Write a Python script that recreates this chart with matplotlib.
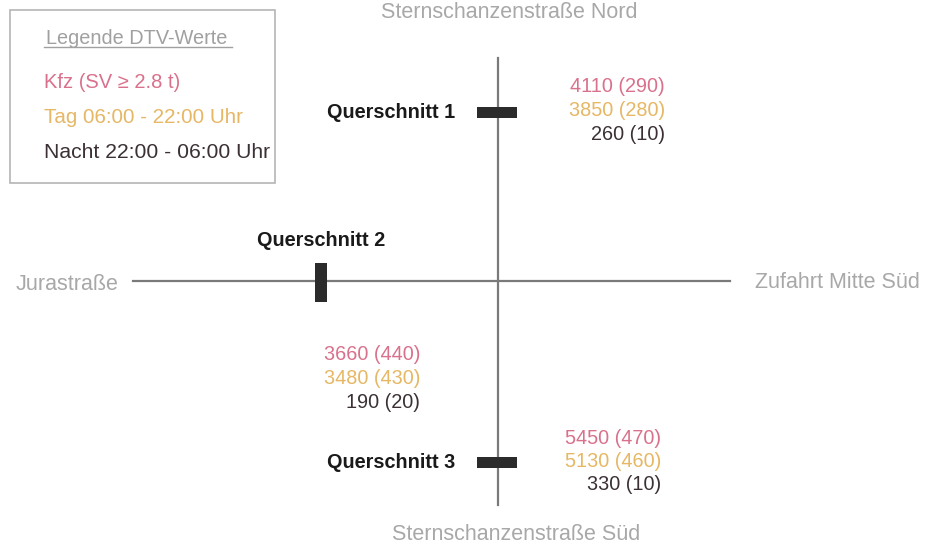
import matplotlib.pyplot as plt
from matplotlib.patches import Rectangle

plt.rcParams["font.family"] = ["Liberation Sans", "DejaVu Sans"]

# Daten
sections = ["Querschnitt 1", "Querschnitt 2", "Querschnitt 3"]
kfz = [4110, 3660, 5450]
kfz_sv = [290, 440, 470]
tag = [3850, 3480, 5130]
tag_sv = [280, 430, 460]
nacht = [260, 190, 330]
nacht_sv = [10, 20, 10]

roads = ["Sternschanzenstraße Nord", "Jurastraße", "Zufahrt Mitte Süd", "Sternschanzenstraße Süd"]
legend_title = "Legende DTV-Werte"
legend_items = ["Kfz (SV ≥ 2.8 t)", "Tag 06:00 - 22:00 Uhr", "Nacht 22:00 - 06:00 Uhr"]

c_kfz = "#d9718c"
c_tag = "#e6b764"
c_nacht = "#3a3036"
c_road = "#a8a8a8"
c_line = "#7a7a7a"
row_colors = [c_kfz, c_tag, c_nacht]

fig = plt.figure(figsize=(9.26, 5.47), dpi=100)
ax = fig.add_axes([0, 0, 1, 1])
ax.set_xlim(0, 926)
ax.set_ylim(547, 0)
ax.axis("off")

# Straßen
ax.plot([498, 498], [58, 505], color=c_line, lw=1.6, zorder=1)
ax.plot([133, 730], [281, 281], color=c_line, lw=1.6, zorder=1)

# Querschnitt-Markierungen
bars = [(477, 107, 40, 11), (315, 263, 12, 39), (477, 457, 40, 11)]
for x, y, w, h in bars:
    ax.add_patch(Rectangle((x, y), w, h, facecolor="#2b2b2b", edgecolor="none", zorder=2))

# Querschnitt-Beschriftungen
qfs = 14.3
ax.text(455, 112, sections[0], ha="right", va="center", fontsize=qfs, fontweight="bold", color="#1a1a1a")
ax.text(321, 240, sections[1], ha="center", va="center", fontsize=qfs, fontweight="bold", color="#1a1a1a")
ax.text(455, 463, sections[2], ha="right", va="center", fontsize=qfs, fontweight="bold", color="#1a1a1a")

# Straßennamen
rfs = 15.5
ax.text(509, 13, roads[0], ha="center", va="center", fontsize=rfs, color=c_road)
ax.text(118, 284, roads[1], ha="right", va="center", fontsize=rfs, color=c_road)
ax.text(755, 283, roads[2], ha="left", va="center", fontsize=rfs, color=c_road)
ax.text(516, 535, roads[3], ha="center", va="center", fontsize=rfs, color=c_road)

# DTV-Werte
value_pos = [(665, 87), (420, 355), (661, 438)]
for i, (x, y) in enumerate(value_pos):
    rows = [(kfz[i], kfz_sv[i]), (tag[i], tag_sv[i]), (nacht[i], nacht_sv[i])]
    for j, (v, sv) in enumerate(rows):
        ax.text(x, y + j * 23.5, f"{v} ({sv})", ha="right", va="center",
                fontsize=14.3, color=row_colors[j])

# Legende
ax.add_patch(Rectangle((10, 10), 265, 173, facecolor="white", edgecolor="#b5b5b5", lw=1.2, zorder=0))
ax.text(46, 38, legend_title, ha="left", va="center", fontsize=14.3, color="#a0a0a0")
ax.plot([44, 232], [47, 47], color="#a0a0a0", lw=1.0)
lfs = [14.5, 14.8, 15.2]
for j, item in enumerate(legend_items):
    ax.text(44, 82 + j * 35.5, item, ha="left", va="center", fontsize=lfs[j], color=row_colors[j])

fig.savefig("out.png", dpi=100)
plt.close(fig)
